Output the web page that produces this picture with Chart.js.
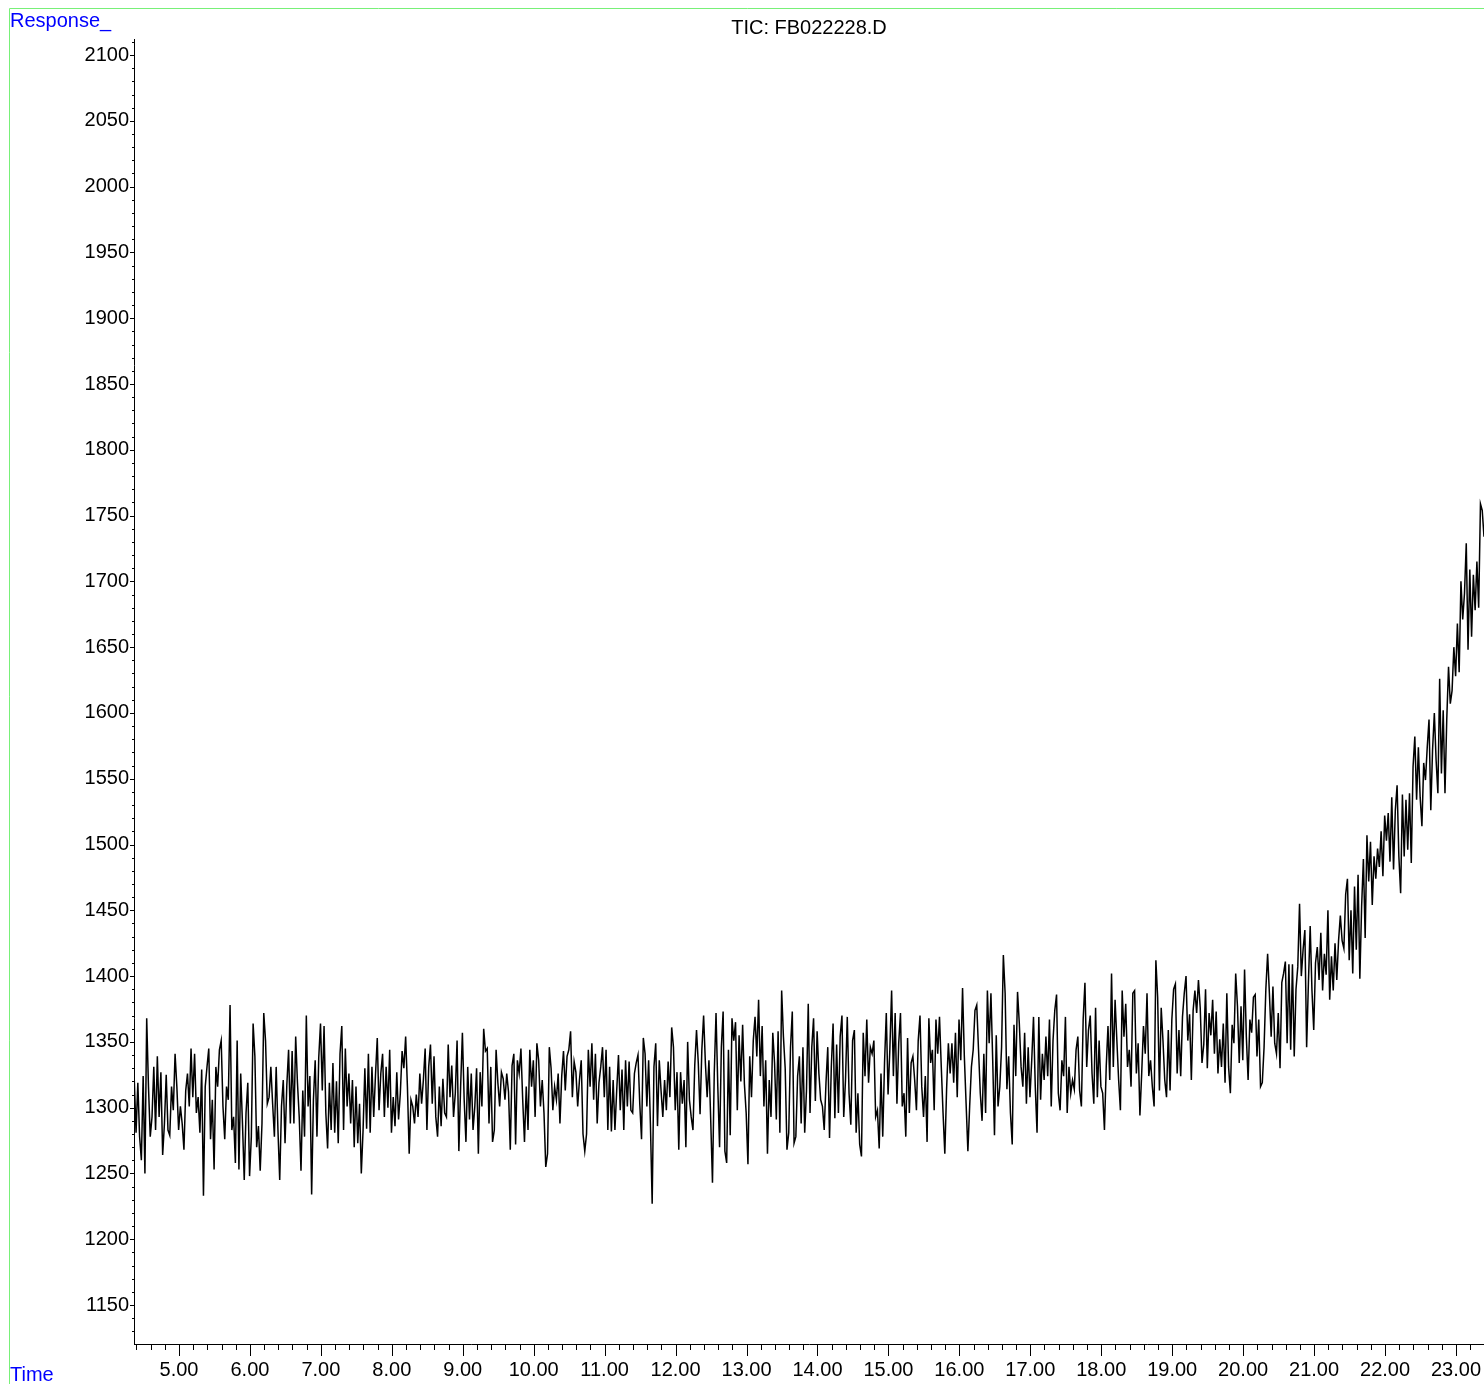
<!DOCTYPE html>
<html>
<head>
<meta charset="utf-8">
<title>TIC: FB022228.D</title>
<script src="https://cdn.jsdelivr.net/npm/chart.js@4.4.1/dist/chart.umd.min.js"></script>
<style>
  html, body { margin: 0; padding: 0; background: #fff; }
  canvas { display: block; }
</style>
</head>
<body>
<canvas id="tic" width="1484" height="1384"></canvas>
<script>
// TIC trace
const fileName = 'TIC: FB022228.D';
const scanStart = 4.37;   // min, first scan
const scanStep = 0.025;   // min between scans

const xTickLabels = ['5.00', '6.00', '7.00', '8.00', '9.00', '10.00', '11.00', '12.00', '13.00',
    '14.00', '15.00', '16.00', '17.00', '18.00', '19.00', '20.00', '21.00', '22.00', '23.00'];
const yTickLabels = [1150, 1200, 1250, 1300, 1350, 1400, 1450, 1500, 1550, 1600, 1650,
    1700, 1750, 1800, 1850, 1900, 1950, 2000, 2050, 2100];

const response = [
    // 4.4 - 6.3 min
    1321,1281,1319,1278,1260,1324,1250,1368,1316,1278,1293,1331,1283,1339,1293,1327,1264,1288,1325,1283,
    1279,1316,1298,1341,1316,1283,1301,1288,1268,1313,1326,1301,1345,1308,1341,1296,1308,1281,1329,1233,
    1316,1331,1345,1276,1306,1253,1331,1316,1344,1351,1301,1276,1316,1306,1378,1283,1293,1258,1351,1253,
    1326,1288,1245,1296,1319,1248,1278,1364,1339,1270,1286,1252,1288,1372,1351,1303,
    // 6.3 - 8.2 min
    1308,1331,1303,1278,1331,1283,1245,1301,1321,1273,1317,1344,1288,1343,1288,1354,1319,1293,1252,1313,
    1278,1370,1301,1324,1234,1306,1336,1278,1338,1364,1313,1362,1296,1269,1319,1283,1334,1281,1320,1273,
    1341,1362,1283,1345,1301,1326,1288,1321,1270,1316,1273,1303,1250,1283,1330,1284,1341,1281,1331,1293,
    1325,1353,1298,1326,1341,1293,1331,1300,1344,1281,1308,1286,1327,1291,1311,1343,
    // 8.2 - 10.1 min
    1330,1354,1316,1265,1306,1301,1288,1310,1293,1326,1303,1321,1345,1283,1331,1348,1303,1339,1293,1278,
    1316,1286,1322,1296,1293,1348,1308,1332,1293,1311,1351,1267,1316,1357,1306,1274,1331,1291,1326,1283,
    1301,1330,1265,1327,1301,1360,1343,1345,1288,1331,1274,1283,1344,1319,1301,1327,1322,1306,1326,1312,
    1268,1332,1341,1272,1336,1326,1345,1306,1274,1316,1283,1344,1316,1336,1293,1349,
    // 10.1 - 12.0 min
    1336,1301,1321,1296,1255,1265,1346,1330,1298,1316,1306,1326,1288,1324,1343,1313,1339,1344,1358,1308,
    1335,1327,1301,1321,1336,1280,1267,1280,1344,1316,1349,1306,1341,1288,1319,1331,1346,1308,1344,1283,
    1331,1282,1321,1283,1313,1340,1298,1329,1283,1336,1301,1335,1298,1296,1326,1334,1340,1303,1276,1353,
    1341,1301,1336,1288,1227,1331,1349,1286,1336,1313,1293,1321,1298,1335,1308,1361,
    // 12.0 - 13.9 min
    1346,1298,1327,1268,1327,1303,1321,1270,1350,1306,1293,1283,1332,1359,1334,1295,1344,1370,1334,1308,
    1336,1291,1243,1326,1372,1316,1270,1346,1373,1267,1258,1344,1279,1368,1351,1365,1298,1355,1320,1363,
    1318,1296,1257,1339,1308,1351,1369,1339,1382,1324,1362,1301,1336,1265,1321,1293,1357,1334,1291,1358,
    1281,1389,1354,1330,1268,1281,1346,1373,1273,1278,1324,1339,1288,1346,1281,1313,
    // 13.9 - 15.8 min
    1379,1296,1346,1368,1305,1358,1326,1306,1301,1283,1319,1346,1277,1331,1364,1292,1348,1296,1354,1370,
    1293,1321,1369,1311,1287,1351,1359,1281,1311,1272,1263,1357,1324,1367,1319,1346,1341,1351,1293,1298,
    1269,1326,1278,1334,1372,1310,1344,1389,1324,1372,1303,1349,1372,1301,1311,1278,1353,1296,1334,1339,
    1321,1298,1351,1370,1316,1293,1324,1274,1368,1334,1344,1298,1367,1341,1369,1331,
    // 15.8 - 17.7 min
    1296,1265,1314,1349,1326,1349,1319,1357,1308,1367,1336,1391,1339,1303,1267,1301,1331,1344,1374,1378,
    1344,1311,1290,1341,1296,1389,1349,1387,1336,1279,1355,1301,1316,1346,1416,1387,1314,1339,1296,1272,
    1363,1324,1388,1364,1331,1316,1357,1303,1346,1308,1336,1369,1316,1281,1369,1306,1341,1321,1354,1324,
    1367,1301,1351,1374,1386,1311,1298,1336,1324,1369,1296,1331,1311,1321,1314,1344,
    // 17.7 - 19.6 min
    1354,1313,1301,1367,1395,1331,1359,1370,1326,1303,1376,1308,1351,1316,1311,1283,1331,1362,1321,1402,
    1331,1382,1351,1321,1298,1389,1354,1379,1331,1344,1316,1387,1389,1326,1349,1294,1326,1362,1341,1387,
    1324,1336,1316,1301,1412,1384,1313,1376,1351,1321,1308,1359,1313,1367,1390,1394,1326,1359,1324,1369,
    1387,1400,1351,1371,1321,1374,1389,1372,1397,1376,1334,1348,1390,1330,1372,1355,
    // 19.6 - 21.5 min
    1382,1341,1373,1326,1352,1331,1364,1319,1387,1331,1311,1363,1349,1402,1377,1334,1377,1336,1405,1354,
    1321,1367,1357,1384,1386,1339,1367,1316,1319,1346,1390,1417,1387,1354,1392,1349,1341,1372,1330,1395,
    1402,1411,1349,1409,1344,1409,1339,1390,1407,1455,1400,1420,1435,1346,1395,1438,1389,1359,1410,1422,
    1397,1433,1389,1417,1401,1450,1382,1415,1389,1425,1397,1427,1446,1427,1421,1462,
    // 21.5 - 23.4 min
    1474,1412,1450,1402,1468,1420,1477,1398,1453,1489,1429,1507,1472,1502,1454,1491,1474,1497,1483,1510,
    1476,1522,1503,1524,1487,1536,1481,1526,1545,1491,1463,1538,1491,1534,1496,1539,1486,1559,1582,1534,
    1574,1536,1514,1562,1549,1574,1595,1526,1572,1600,1564,1539,1626,1554,1602,1539,1595,1635,1607,1617,
    1650,1628,1668,1631,1700,1671,1691,1729,1648,1709,1658,1705,1678,1715,1680,1759,1754,1734
];

const FONT = '"Liberation Sans", Arial, sans-serif';

// frame, small tick marks and the corner captions
const decorations = {
    id: 'decorations',
    afterDraw(chart) {
        const { ctx, chartArea, scales } = chart;
        const x = scales.x, y = scales.y;
        ctx.save();

        // light green frame (only top / left visible)
        ctx.strokeStyle = '#78f078';
        ctx.lineWidth = 1;
        ctx.beginPath();
        ctx.moveTo(9.5, chart.height + 2);
        ctx.lineTo(9.5, 8.5);
        ctx.lineTo(chart.width + 2, 8.5);
        ctx.stroke();

        // tick marks
        ctx.strokeStyle = '#000';
        ctx.beginPath();
        for (let v = 1130; v <= 2110; v += 10) {
            const py = Math.round(y.getPixelForValue(v)) + 0.5;
            const len = v % 50 === 0 ? 4 : 2;
            ctx.moveTo(chartArea.left - len, py);
            ctx.lineTo(chartArea.left, py);
        }
        for (let i = 22; i <= 116; i++) {
            const px = Math.round(x.getPixelForValue(i / 5)) + 0.5;
            const len = i % 5 === 0 ? 12 : 6;
            ctx.moveTo(px, chartArea.bottom);
            ctx.lineTo(px, chartArea.bottom + len);
        }
        ctx.stroke();

        // captions
        ctx.font = '20px ' + FONT;
        ctx.textBaseline = 'alphabetic';
        ctx.fillStyle = '#0000ff';
        ctx.textAlign = 'left';
        ctx.fillText('Response_', 10, 27);
        ctx.fillText('Time', 10, 1381);

        ctx.fillStyle = '#000';
        ctx.textAlign = 'center';
        ctx.fillText(fileName, (chartArea.left + chartArea.right) / 2, 34);
        ctx.restore();
    }
};

new Chart(document.getElementById('tic'), {
    type: 'line',
    data: {
        datasets: [{
            data: response.map((v, i) => ({ x: scanStart + i * scanStep, y: v })),
            borderColor: '#000',
            borderWidth: 1.5,
            pointRadius: 0,
            tension: 0,
            fill: false
        }]
    },
    options: {
        responsive: false,
        animation: false,
        devicePixelRatio: 1,
        layout: { padding: { top: 39, left: 0, right: 0, bottom: 0 } },
        plugins: {
            legend: { display: false },
            tooltip: { enabled: false },
            title: { display: false }
        },
        scales: {
            x: {
                type: 'linear',
                min: 4.366,
                max: 23.395,
                afterBuildTicks: s => { s.ticks = xTickLabels.map(l => ({ value: parseFloat(l) })); },
                afterFit: s => { s.height = 40; s.paddingLeft = 0; s.paddingRight = 0; },
                grid: { display: false, drawTicks: false },
                border: { display: true, color: '#000', width: 1 },
                ticks: {
                    autoSkip: false,
                    maxRotation: 0,
                    padding: 14,
                    color: '#000',
                    font: { family: FONT, size: 20 },
                    callback: (v, i) => xTickLabels[i]
                }
            },
            y: {
                type: 'linear',
                min: 1120.4,
                max: 2112.2,
                afterBuildTicks: s => { s.ticks = yTickLabels.map(v => ({ value: v })); },
                afterFit: s => { s.width = 134; s.paddingTop = 0; s.paddingBottom = 0; },
                grid: { display: false, drawTicks: false },
                border: { display: true, color: '#000', width: 1 },
                ticks: {
                    autoSkip: false,
                    padding: 5,
                    color: '#000',
                    font: { family: FONT, size: 20 },
                    callback: (v, i) => String(yTickLabels[i])
                }
            }
        }
    },
    plugins: [decorations]
});
</script>
</body>
</html>
